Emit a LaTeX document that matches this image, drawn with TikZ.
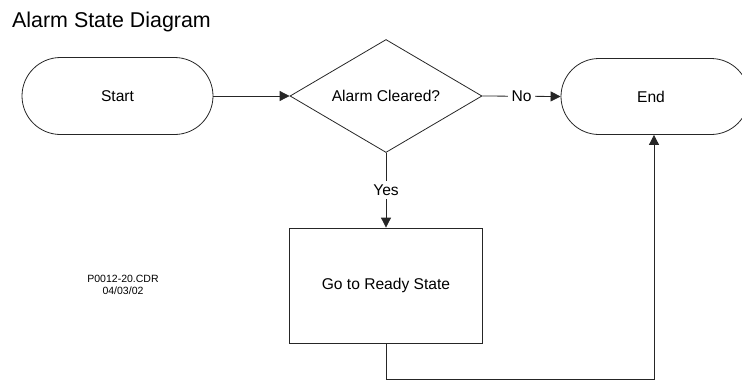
\documentclass[tikz,border=0pt]{standalone}
\usepackage{fontspec}
\setmainfont{Liberation Sans}
\usetikzlibrary{shapes.geometric,shapes.misc,arrows.meta}
\begin{document}
\begin{tikzpicture}[x=1pt,y=-1pt,
  line/.style={draw=black!85, line width=0.8pt},
  arr/.style={line, -{Triangle[length=10pt,width=10pt]}},
  lbl/.style={font=\fontsize{15.6}{18}\selectfont},
  term/.style={rounded rectangle, line, minimum height=77pt, inner sep=0pt, lbl},
  decision/.style={diamond, line, inner sep=0pt, minimum width=192pt, minimum height=113pt, aspect=1.7, lbl},
  process/.style={rectangle, line, minimum width=193pt, minimum height=115pt, inner sep=0pt, lbl},
  tag/.style={fill=white, inner sep=3.5pt, lbl}
]
\useasboundingbox (0,0) rectangle (742,381);
\node[anchor=base west, inner sep=0pt, font=\fontsize{21.4}{25}\selectfont] (title) at (12,27) {Alarm State Diagram};
\node[term, minimum width=191pt] (start) at (117.5,96) {Start};
\node[decision] (dec) at (386,96) {Alarm Cleared?};
\node[term, minimum width=188pt, minimum height=76pt] (end) at (655,96.5) {\hspace*{-8pt}End};
\node[process] (ready) at (386,285.5) {Go to Ready State};
\node[align=center, inner sep=0pt, font=\fontsize{10.5}{11.7}\selectfont] (ref) at (123,285) {P0012-20.CDR\\04/03/02};
\draw[arr] (start.east) -- (dec.west);
\draw[arr] (dec.east) -- node[tag]{No} (end.west);
\draw[arr] (dec.south) -- node[tag]{Yes} (ready.north);
\draw[arr] (ready.south) -- ++(0,36) -| ([xshift=-1pt]end.south);
\end{tikzpicture}
\end{document}
